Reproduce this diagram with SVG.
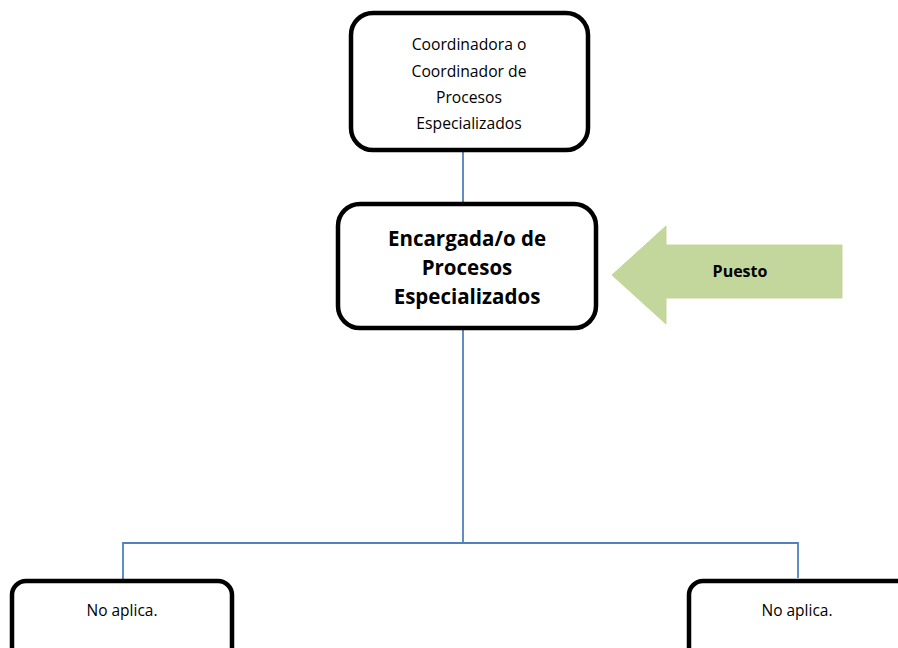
<svg xmlns="http://www.w3.org/2000/svg" width="898" height="648" viewBox="0 0 898 648">
<style>
.box{fill:#fff;stroke:#000;stroke-width:4.5}
.t{font-family:"Open Sans","Liberation Sans",sans-serif;font-size:15.7px;text-anchor:middle;fill:#000}
.b{font-family:"Open Sans","Liberation Sans",sans-serif;font-size:20.5px;font-weight:bold;text-anchor:middle;fill:#000}
.c{fill:none;stroke:#4F81BD;stroke-width:1.8}
</style>
<rect width="898" height="648" fill="#fff"/>
<g id="connectors">
<line class="c" x1="463" y1="151" x2="463" y2="203"/>
<line class="c" x1="463" y1="328" x2="463" y2="543"/>
<polyline class="c" points="123,580 123,543 798,543 798,578"/>
</g>
<g id="node-coordinador">
<rect class="box" x="351" y="13" width="237" height="137" rx="22"/>
<text class="t" x="469" y="50">Coordinadora o</text>
<text class="t" x="469" y="77">Coordinador de</text>
<text class="t" x="469" y="103">Procesos</text>
<text class="t" x="469" y="129">Especializados</text>
</g>
<g id="node-encargada">
<rect class="box" x="338" y="204" width="258" height="124" rx="22"/>
<text class="b" x="467" y="246">Encargada/o de</text>
<text class="b" x="467" y="275">Procesos</text>
<text class="b" x="467" y="304">Especializados</text>
</g>
<g id="puesto">
<polygon points="612,275 666,226 666,245 842,245 842,298 666,298 666,324" fill="#C3D69B" stroke="#C3D69B" stroke-width="1" stroke-linejoin="round"/>
<text class="b" x="740" y="277" style="font-size:16px">Puesto</text>
</g>
<g id="node-left">
<rect class="box" x="12" y="581" width="220" height="80" rx="14"/>
<text class="t" x="122" y="616" style="font-size:15.5px">No aplica.</text>
</g>
<g id="node-right">
<rect class="box" x="689" y="581" width="230" height="80" rx="14"/>
<text class="t" x="797" y="616" style="font-size:15.5px">No aplica.</text>
</g>
</svg>
